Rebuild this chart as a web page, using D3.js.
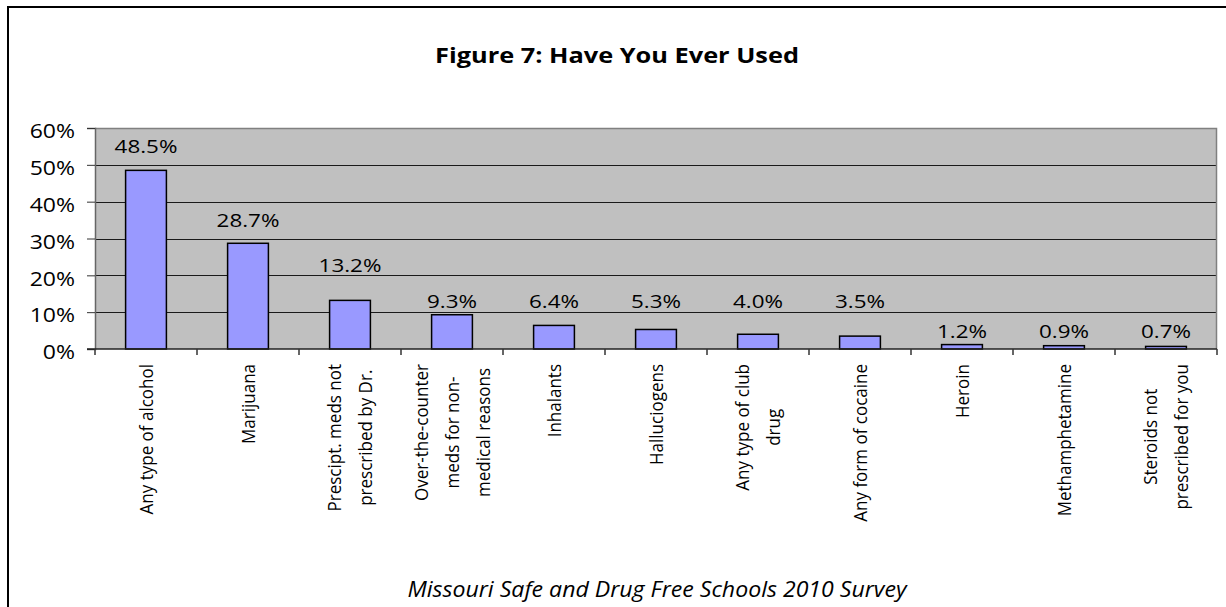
<!DOCTYPE html>
<html>
<head>
<meta charset="utf-8">
<script src="https://cdn.jsdelivr.net/npm/d3@7"></script>
<style>
  html, body { margin: 0; padding: 0; background: #fff; }
  svg { display: block; }
  text { font-family: "Open Sans", Lato, sans-serif; fill: #000; }
</style>
</head>
<body>
<svg id="chart" width="1226" height="607"></svg>
<script>
// Share of students who have ever used each substance (percent)
const categories = [
  "Any type of alcohol",
  "Marijuana",
  "Prescipt. meds not prescribed by Dr.",
  "Over-the-counter meds for non-medical reasons",
  "Inhalants",
  "Halluciogens",
  "Any type of club drug",
  "Any form of cocaine",
  "Heroin",
  "Methamphetamine",
  "Steroids not prescribed for you"
];
const categoryLines = [
  ["Any type of alcohol"],
  ["Marijuana"],
  ["Prescipt. meds not", "prescribed by Dr."],
  ["Over-the-counter", "meds for non-", "medical reasons"],
  ["Inhalants"],
  ["Halluciogens"],
  ["Any type of club", "drug"],
  ["Any form of cocaine"],
  ["Heroin"],
  ["Methamphetamine"],
  ["Steroids not", "prescribed for you"]
];
const values = [48.5, 28.7, 13.2, 9.3, 6.4, 5.3, 4.0, 3.5, 1.2, 0.9, 0.7];
const yTicks = [0, 10, 20, 30, 40, 50, 60];
const titleText = "Figure 7: Have You Ever Used";
const sourceText = "Missouri Safe and Drug Free Schools 2010 Survey";

// Gap (px) between each bar top and its value label baseline
const labelRise = [17, 16, 28, 7, 17, 21, 26, 28, 7, 8, 8];

// Horizontal widening applied to the wide-set lettering
const wide = 1.18;

const svg = d3.select("#chart");
const plot = { left: 95, right: 1217, top: 128, bottom: 349 };

// Outer chart frame (its right and bottom edges run off the canvas)
svg.append("rect")
  .attr("x", 8).attr("y", 7)
  .attr("width", 1400).attr("height", 800)
  .attr("fill", "#fff")
  .attr("stroke", "#000").attr("stroke-width", 2);

const x = d3.scaleBand()
  .domain(d3.range(values.length))
  .range([plot.left, plot.right])
  .paddingInner(0.6).paddingOuter(0.3);

const xBound = d3.scaleLinear()
  .domain([0, values.length])
  .range([plot.left, plot.right]);

const y = d3.scaleLinear()
  .domain([0, 60])
  .range([plot.bottom, plot.top]);

// Plot background
svg.append("rect")
  .attr("x", plot.left).attr("y", plot.top)
  .attr("width", plot.right - plot.left).attr("height", plot.bottom - plot.top)
  .attr("fill", "#c0c0c0");

// Horizontal gridlines
svg.append("g")
  .selectAll("line")
  .data(yTicks.filter(t => t > 0 && t < 60))
  .join("line")
  .attr("x1", plot.left).attr("x2", plot.right)
  .attr("y1", d => Math.round(y(d)) + 0.5).attr("y2", d => Math.round(y(d)) + 0.5)
  .attr("stroke", "#1a1a1a").attr("stroke-width", 1);

// Plot border on top and right
svg.append("path")
  .attr("d", `M${plot.left},${plot.top + 0.5}H${plot.right - 0.5}V${plot.bottom}`)
  .attr("fill", "none").attr("stroke", "#808080").attr("stroke-width", 1.5);

// Bars
svg.append("g")
  .selectAll("rect")
  .data(values)
  .join("rect")
  .attr("x", (d, i) => x(i))
  .attr("y", d => y(d))
  .attr("width", x.bandwidth())
  .attr("height", d => y(0) - y(d))
  .attr("fill", "#9999ff")
  .attr("stroke", "#000").attr("stroke-width", 1.5);

// Y axis
const yAxis = d3.axisLeft(y)
  .tickValues(yTicks)
  .tickSize(8)
  .tickPadding(12)
  .tickFormat(d => d + "%");
const gy = svg.append("g")
  .attr("transform", `translate(${plot.left},0)`)
  .call(yAxis);
gy.select(".domain").attr("stroke", "#666").attr("stroke-width", 1.5);
gy.selectAll(".tick line").attr("stroke", "#333");
gy.selectAll(".tick text")
  .attr("x", 0)
  .attr("transform", `translate(-20,0) scale(${wide},1)`)
  .attr("font-size", 19.5)
  .attr("dy", "0.5em")
  .style("font-family", "'Open Sans', Lato, sans-serif");

// X axis line and category boundary ticks
svg.append("line")
  .attr("x1", plot.left - 8).attr("x2", plot.right)
  .attr("y1", plot.bottom).attr("y2", plot.bottom)
  .attr("stroke", "#222").attr("stroke-width", 1.5);
svg.append("g")
  .selectAll("line")
  .data(d3.range(values.length + 1))
  .join("line")
  .attr("x1", d => xBound(d)).attr("x2", d => xBound(d))
  .attr("y1", plot.bottom).attr("y2", plot.bottom + 6)
  .attr("stroke", "#333").attr("stroke-width", 1.5);

// Value labels
svg.append("g")
  .selectAll("text")
  .data(values)
  .join("text")
  .attr("transform", (d, i) =>
    `translate(${x(i) + x.bandwidth() / 2},${y(d) - labelRise[i]}) scale(${wide},1)`)
  .attr("text-anchor", "middle")
  .attr("font-size", 19)
  .text(d => d.toFixed(1) + "%");

// Rotated category labels: block anchored just below the axis, lines centred
const catFont = 17, lineGap = 31, labelTop = 364, catWide = 1.08;
const catGroups = svg.append("g")
  .selectAll("g")
  .data(categoryLines)
  .join("g")
  .attr("transform", (d, i) =>
    `translate(${x(i) + x.bandwidth() / 2},${labelTop}) rotate(-90) scale(1,${catWide})`);

catGroups.each(function(lines) {
  const g = d3.select(this);
  const texts = g.selectAll("text")
    .data(lines)
    .join("text")
    .attr("font-size", catFont)
    .attr("text-anchor", "middle")
    .attr("dy", "0.36em")
    .attr("y", (d, j) => (j - (lines.length - 1) / 2) * lineGap / catWide)
    .text(d => d);
  let maxLen = 0;
  texts.each(function() { maxLen = Math.max(maxLen, this.getComputedTextLength()); });
  texts.attr("x", -maxLen / 2);
});

// Title
svg.append("text")
  .attr("transform", `translate(617,63) scale(${wide},1)`)
  .attr("text-anchor", "middle")
  .attr("font-size", 21.5)
  .attr("font-weight", "bold")
  .text(titleText);

// Source note
svg.append("text")
  .attr("transform", "translate(657,597) scale(1.1,1)")
  .attr("text-anchor", "middle")
  .attr("font-size", 21)
  .attr("font-style", "italic")
  .text(sourceText);
</script>
</body>
</html>
